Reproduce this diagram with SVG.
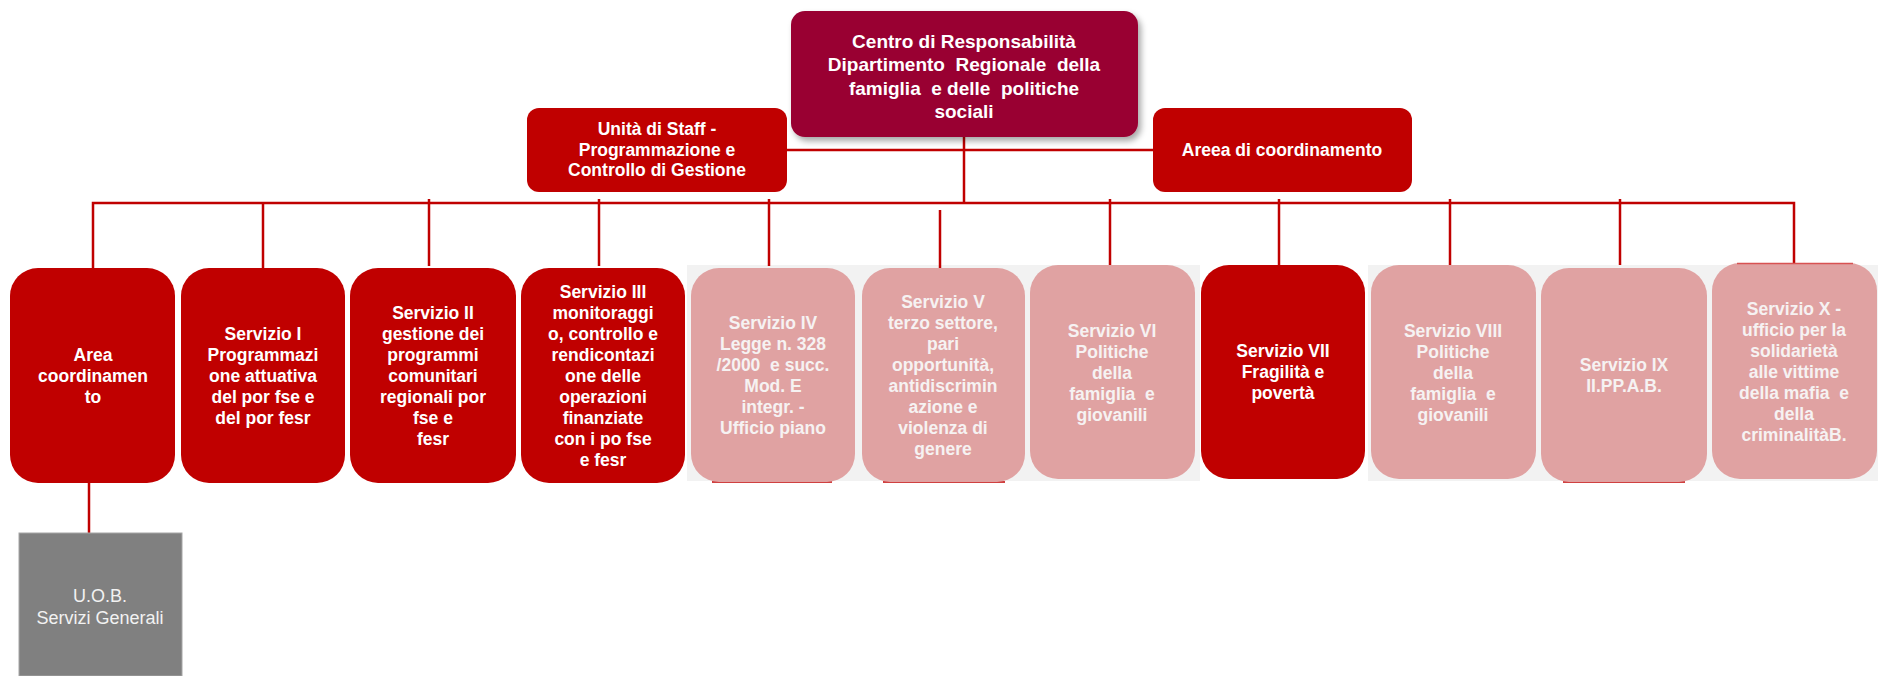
<svg xmlns="http://www.w3.org/2000/svg" width="1878" height="676" viewBox="0 0 1878 676">
<style>
text{font-family:"Liberation Sans",Arial,sans-serif;text-anchor:middle}
.b{font-weight:bold;font-size:17.5px;fill:#fff}
.p{font-weight:bold;font-size:17.5px;fill:#f6f2f2}
.t{font-weight:bold;font-size:19px;fill:#fff}
.g{font-size:18px;fill:#f2f2f2}
.red{fill:#c00000}
.pink{fill:#e0a2a2}
.ln{stroke:#c00000;stroke-width:2.5;fill:none}
.thin{stroke:#c00000;stroke-width:1.5;fill:none}
.thinl{stroke:#d85252;stroke-width:1.5;fill:none}
</style>
<defs>
<filter id="sh" x="-10%" y="-10%" width="125%" height="130%">
<feDropShadow dx="3" dy="4" stdDeviation="3" flood-color="#000" flood-opacity="0.35"/>
</filter>
</defs>
<rect x="0" y="0" width="1878" height="676" fill="#fff"/>
<rect x="687" y="265" width="513" height="216" fill="#f2f2f2"/>
<rect x="1368" y="265" width="510" height="216" fill="#f2f2f2"/>

<g id="connectors">
<line class="ln" x1="786" y1="150" x2="1153" y2="150"/>
<line class="ln" x1="964" y1="137" x2="964" y2="203"/>
<polyline class="ln" points="93,268 93,203 1794,203 1794,264"/>
<line class="ln" x1="263" y1="203" x2="263" y2="268"/>
<line class="ln" x1="429" y1="199" x2="429" y2="266"/>
<line class="ln" x1="599" y1="199" x2="599" y2="266"/>
<line class="ln" x1="769" y1="199" x2="769" y2="266"/>
<line class="ln" x1="940" y1="210" x2="940" y2="275"/>
<line class="ln" x1="1110" y1="199" x2="1110" y2="265"/>
<line class="ln" x1="1279" y1="199" x2="1279" y2="265"/>
<line class="ln" x1="1450" y1="199" x2="1450" y2="265"/>
<line class="ln" x1="1620" y1="199" x2="1620" y2="265"/>
<line class="ln" x1="89" y1="483" x2="89" y2="533"/>
</g>

<g id="centro">
<rect x="791" y="11" width="347" height="126" rx="14" fill="#990033" filter="url(#sh)"/>
<text class="t" x="964" y="48">Centro di Responsabilità</text>
<text class="t" x="964" y="71">Dipartimento&#160; Regionale&#160; della</text>
<text class="t" x="964" y="95">famiglia&#160; e delle&#160; politiche</text>
<text class="t" x="964" y="118">sociali</text>
</g>

<g id="staff">
<rect class="red" x="527" y="108" width="260" height="84" rx="12"/>
<text class="b" x="657" y="135">Unità di Staff -</text>
<text class="b" x="657" y="156">Programmazione e</text>
<text class="b" x="657" y="176">Controllo di Gestione</text>
</g>

<g id="area-coord-top">
<rect class="red" x="1153" y="108" width="259" height="84" rx="12"/>
<text class="b" x="1282" y="156">Areea di coordinamento</text>
</g>

<g id="area-coord">
<rect class="red" x="10" y="268" width="165" height="215" rx="28"/>
<text class="b" x="93" y="361">Area</text>
<text class="b" x="93" y="382">coordinamen</text>
<text class="b" x="93" y="403">to</text>
</g>

<g id="serv1">
<rect class="red" x="181" y="268" width="164" height="215" rx="28"/>
<text class="b" x="263" y="340">Servizio I</text>
<text class="b" x="263" y="361">Programmazi</text>
<text class="b" x="263" y="382">one attuativa</text>
<text class="b" x="263" y="403">del por fse e</text>
<text class="b" x="263" y="424">del por fesr</text>
</g>

<g id="serv2">
<rect class="red" x="350" y="268" width="166" height="215" rx="28"/>
<text class="b" x="433" y="319">Servizio II</text>
<text class="b" x="433" y="340">gestione dei</text>
<text class="b" x="433" y="361">programmi</text>
<text class="b" x="433" y="382">comunitari</text>
<text class="b" x="433" y="403">regionali por</text>
<text class="b" x="433" y="424">fse e</text>
<text class="b" x="433" y="445">fesr</text>
</g>

<g id="serv3">
<rect class="red" x="521" y="268" width="164" height="215" rx="28"/>
<text class="b" x="603" y="298">Servizio III</text>
<text class="b" x="603" y="319">monitoraggi</text>
<text class="b" x="603" y="340">o, controllo e</text>
<text class="b" x="603" y="361">rendicontazi</text>
<text class="b" x="603" y="382">one delle</text>
<text class="b" x="603" y="403">operazioni</text>
<text class="b" x="603" y="424">finanziate</text>
<text class="b" x="603" y="445">con i po fse</text>
<text class="b" x="603" y="466">e fesr</text>
</g>

<g id="serv4">
<line class="thin" x1="712" y1="482" x2="832" y2="482"/>
<rect class="pink" x="691" y="268" width="164" height="214" rx="28"/>
<text class="p" x="773" y="329">Servizio IV</text>
<text class="p" x="773" y="350">Legge n. 328</text>
<text class="p" x="773" y="371">/2000&#160; e succ.</text>
<text class="p" x="773" y="392">Mod. E</text>
<text class="p" x="773" y="413">integr. -</text>
<text class="p" x="773" y="434">Ufficio piano</text>
</g>

<g id="serv5">
<line class="thin" x1="883" y1="482" x2="1005" y2="482"/>
<rect class="pink" x="862" y="268" width="163" height="214" rx="28"/>
<text class="p" x="943" y="308">Servizio V</text>
<text class="p" x="943" y="329">terzo settore,</text>
<text class="p" x="943" y="350">pari</text>
<text class="p" x="943" y="371">opportunità,</text>
<text class="p" x="943" y="392">antidiscrimin</text>
<text class="p" x="943" y="413">azione e</text>
<text class="p" x="943" y="434">violenza di</text>
<text class="p" x="943" y="455">genere</text>
</g>

<g id="serv6">
<rect class="pink" x="1030" y="265" width="165" height="214" rx="28"/>
<text class="p" x="1112" y="337">Servizio VI</text>
<text class="p" x="1112" y="358">Politiche</text>
<text class="p" x="1112" y="379">della</text>
<text class="p" x="1112" y="400">famiglia&#160; e</text>
<text class="p" x="1112" y="421">giovanili</text>
</g>

<g id="serv7">
<rect class="red" x="1201" y="265" width="164" height="214" rx="28"/>
<text class="b" x="1283" y="357">Servizio VII</text>
<text class="b" x="1283" y="378">Fragilità e</text>
<text class="b" x="1283" y="399">povertà</text>
</g>

<g id="serv8">
<rect class="pink" x="1371" y="265" width="165" height="214" rx="28"/>
<text class="p" x="1453" y="337">Servizio VIII</text>
<text class="p" x="1453" y="358">Politiche</text>
<text class="p" x="1453" y="379">della</text>
<text class="p" x="1453" y="400">famiglia&#160; e</text>
<text class="p" x="1453" y="421">giovanili</text>
</g>

<g id="serv9">
<line class="thin" x1="1563" y1="482" x2="1685" y2="482"/>
<rect class="pink" x="1541" y="268" width="166" height="214" rx="28"/>
<text class="p" x="1624" y="371">Servizio IX</text>
<text class="p" x="1624" y="392">II.PP.A.B.</text>
</g>

<g id="serv10">
<rect class="pink" x="1712" y="263" width="165" height="216" rx="28"/>
<line class="thinl" x1="1737" y1="263.5" x2="1853" y2="263.5"/>
<text class="p" x="1794" y="315">Servizio X -</text>
<text class="p" x="1794" y="336">ufficio per la</text>
<text class="p" x="1794" y="357">solidarietà</text>
<text class="p" x="1794" y="378">alle vittime</text>
<text class="p" x="1794" y="399">della mafia&#160; e</text>
<text class="p" x="1794" y="420">della</text>
<text class="p" x="1794" y="441">criminalitàB.</text>
</g>

<g id="uob">
<rect x="19" y="533" width="163" height="143" fill="#808080" stroke="#a6a6a6" stroke-width="1"/>
<text class="g" x="100" y="602">U.O.B.</text>
<text class="g" x="100" y="624">Servizi Generali</text>
</g>
</svg>
